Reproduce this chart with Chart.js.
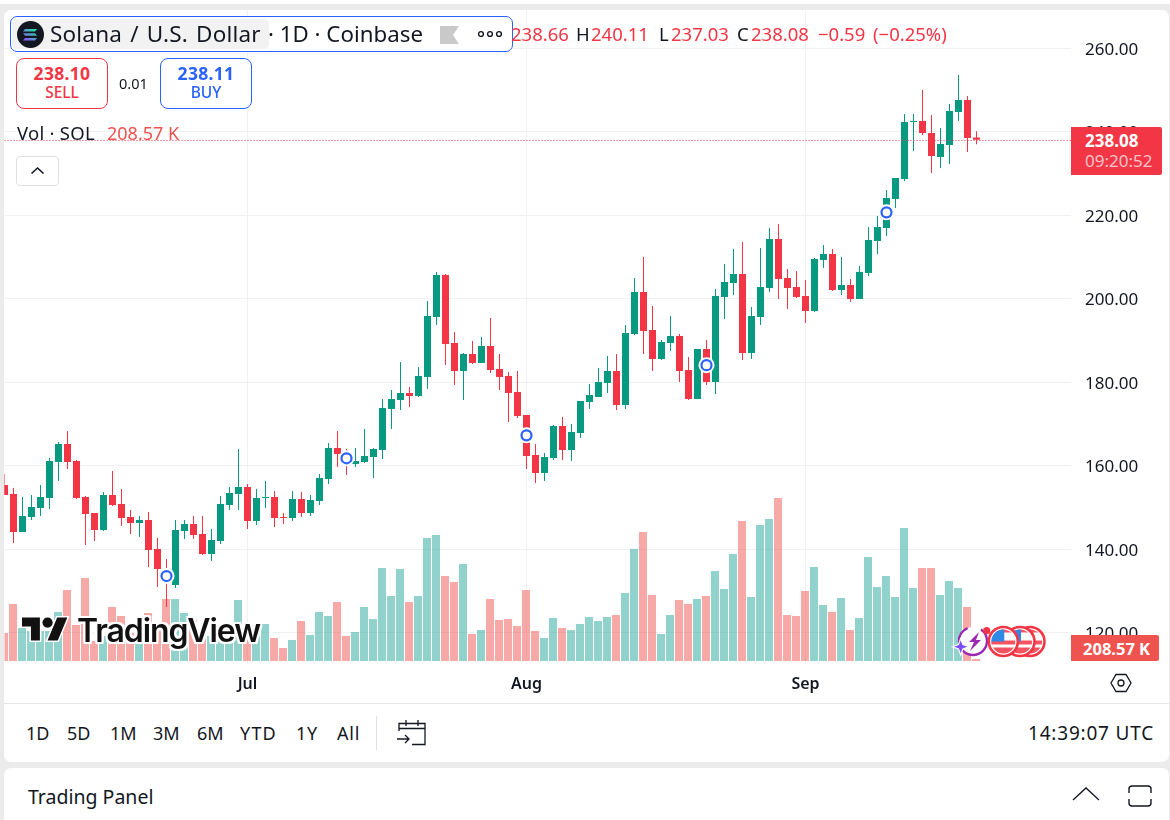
<!DOCTYPE html>
<html>
<head>
<meta charset="utf-8">
<title>Solana / U.S. Dollar</title>
<script src="https://cdn.jsdelivr.net/npm/chart.js@4/dist/chart.umd.min.js"></script>
<style>
  html, body { margin: 0; padding: 0; background: #fff; }
  body { width: 1170px; height: 820px; position: relative; overflow: hidden; font-family: "Noto Sans", sans-serif; color: #131722; }
  .abs { position: absolute; white-space: nowrap; line-height: 1; }
  #bg { position: absolute; left: 0; top: 4px; width: 1170px; height: 816px; background: #ebebeb; }
  .card { position: absolute; background: #fff; border-radius: 7px; }
  #chartCard { left: 4px; top: 10px; width: 1165px; height: 752px; }
  #panelCard { left: 4px; top: 768px; width: 1165px; height: 60px; }
  #axisLine { position: absolute; left: 4px; top: 703px; width: 1165px; height: 1px; background: #e6e6e6; }
  canvas { position: absolute; left: 4px; top: 10px; }
  #titleBox { position: absolute; left: 10px; top: 16px; width: 501px; height: 34px; border: 1px solid #2962ff; border-radius: 7px; background: #fff; }
  #titlePill { position: absolute; left: 12px; top: 19px; width: 257px; height: 30px; background: #f2f2f2; border-radius: 5px; }
  .red { color: #f23645; }
  .ohlc { top: 25px; font-size: 18.5px; }
  .tradeBtn { position: absolute; top: 58px; height: 49px; width: 90px; border: 1px solid; border-radius: 8px; background: #fff; text-align: center; }
  .tradeBtn b { display: block; font-size: 17.5px; line-height: 16px; margin-top: 6px; font-weight: 700; letter-spacing: .3px; }
  .tradeBtn span { display: block; font-size: 15.5px; line-height: 15px; margin-top: 4px; font-weight: 500; }
  #chevBtn { position: absolute; left: 16px; top: 156px; width: 41px; height: 28px; border: 1px solid #e0e0e0; border-radius: 4px; background: #fff; }
  #lastBadge { position: absolute; left: 1071px; top: 127px; width: 91px; height: 48px; background: #f23645; border-radius: 0 2px 2px 0; color: #fff; }
  #volBadge { position: absolute; left: 1071px; top: 635px; width: 88px; height: 26px; background: #ef5350; border-radius: 0 2px 2px 0; color: #fff; font-weight: 700; font-size: 16.5px; line-height: 27px; padding-left: 12px; box-sizing: border-box; white-space: nowrap; }
  #logoText { left: 77px; top: 612px; font-family: Inter, sans-serif; font-weight: 600; font-size: 32px; letter-spacing: -1.1px; color: #111; line-height: 38px;
    text-shadow: 2px 0 #fff, -2px 0 #fff, 0 2px #fff, 0 -2px #fff, 2px 2px #fff, -2px 2px #fff, 2px -2px #fff, -2px -2px #fff; }
  .range { top: 724px; font-size: 18px; }
</style>
</head>
<body>
<div id="bg"></div>
<div id="chartCard" class="card"></div>
<div id="panelCard" class="card"></div>
<div id="axisLine"></div>
<canvas id="chart" width="1165" height="693"></canvas>

<div id="titleBox"></div>
<div id="titlePill"></div>
<svg class="abs" style="left:17px;top:21px" width="27" height="27" viewBox="0 0 27 27">
  <defs><linearGradient id="sol" x1="0" y1="1" x2="1" y2="0"><stop offset="0" stop-color="#9945ff"/><stop offset="1" stop-color="#14f195"/></linearGradient></defs>
  <circle cx="13.5" cy="13.5" r="13.5" fill="#131722"/>
  <path d="M8 8h12l-2 2.4H6zM6 12.3h12l2 2.4H8zM8 17h12l-2 2.4H6z" fill="url(#sol)"/>
</svg>
<div class="abs" style="left:50px;top:23px;font-size:22.5px;word-spacing:2px;letter-spacing:.2px">Solana / U.S. Dollar</div>
<div class="abs" style="left:268px;top:23px;font-size:22.3px">· 1D · Coinbase</div>
<svg class="abs" style="left:440px;top:26px" width="19" height="18" viewBox="0 0 19 18"><path d="M0 0h19l-6 9 6 9H0z" fill="#c9c9c9"/></svg>
<svg class="abs" style="left:477px;top:30px" width="27" height="8" viewBox="0 0 27 8" fill="none" stroke="#131722" stroke-width="1.4"><circle cx="4" cy="4" r="2.4"/><circle cx="13" cy="4" r="2.4"/><circle cx="22" cy="4" r="2.4"/></svg>

<div class="abs red ohlc" style="left:511px">238.66</div>
<div class="abs ohlc" style="left:576px">H</div>
<div class="abs red ohlc" style="left:591px">240.11</div>
<div class="abs ohlc" style="left:659px">L</div>
<div class="abs red ohlc" style="left:671px">237.03</div>
<div class="abs ohlc" style="left:737px">C</div>
<div class="abs red ohlc" style="left:751px">238.08</div>
<div class="abs red ohlc" style="left:818px">−0.59</div>
<div class="abs red ohlc" style="left:873px">(−0.25%)</div>

<div class="tradeBtn" style="left:16px;border-color:#f23645;color:#f23645"><b>238.10</b><span>SELL</span></div>
<div class="abs" style="left:119px;top:76px;font-size:14.5px">0.01</div>
<div class="tradeBtn" style="left:160px;border-color:#2962ff;color:#2962ff"><b>238.11</b><span>BUY</span></div>

<div class="abs" style="left:17px;top:124px;font-size:18.5px;letter-spacing:.25px">Vol · SOL</div>
<div class="abs" style="left:107px;top:124px;font-size:18px;color:#ef5350">208.57 K</div>
<div id="chevBtn"></div>
<svg class="abs" style="left:30px;top:166px" width="15" height="9" viewBox="0 0 15 9"><path d="M1.5 7.5l6-5.5 6 5.5" fill="none" stroke="#131722" stroke-width="1.6"/></svg>

<div id="lastBadge">
  <div style="font-size:17px;font-weight:700;line-height:16px;margin:6px 0 0 14px">238.08</div>
  <div style="font-size:17px;line-height:16px;margin:4px 0 0 14px;color:#fbc4c9">09:20:52</div>
</div>
<div id="volBadge">208.57 K</div>

<svg class="abs" style="left:22px;top:617px;overflow:visible" width="46" height="24" viewBox="0 4 36 18">
  <g fill="#111" stroke="#fff" stroke-width="2.4" paint-order="stroke"><path d="M14 22H7V11H0V4h14v18zM28 22h-8l7.5-18h8L28 22z"/><circle cx="20" cy="8" r="4"/></g>
</svg>
<div id="logoText" class="abs">TradingView</div>

<svg class="abs" style="left:950px;top:622px" width="100" height="40" viewBox="0 0 100 40">
  <defs>
    <g id="usFlag">
      <circle r="14.5" fill="#fff"/>
      <clipPath id="fc"><circle r="12"/></clipPath>
      <g clip-path="url(#fc)"><rect x="-13" y="-1" width="26" height="4" fill="#f7525f"/><rect x="-13" y="6" width="26" height="8" fill="#f7525f"/><rect x="-13" y="-13" width="26" height="4" fill="#f7525f"/><rect x="-13" y="-13" width="14" height="13" fill="#2e8ae6"/></g>
      <circle r="14.5" fill="none" stroke="#f23645" stroke-width="2.6"/>
    </g>
  </defs>
  <use href="#usFlag" x="80" y="19.5"/>
  <use href="#usFlag" x="70" y="19.5"/>
  <circle cx="23" cy="19" r="14" fill="#fff"/><circle cx="23" cy="19" r="14" fill="none" stroke="#9c27b0" stroke-width="2.4" stroke-dasharray="60 14"/>
  <path d="M29 10l-10 10h5l-4 9 11-11h-5z" fill="#9c27b0"/>
  <path d="M10.7 16.5l2.2 6 6 2.2-6 2.2-2.2 6-2.2-6-6-2.2 6-2.2z" fill="#7c4dff" stroke="#fff" stroke-width="1.2"/>
  <circle cx="36.7" cy="8.7" r="3.6" fill="#f23645"/>
  <use href="#usFlag" x="53.3" y="19.5"/>
</svg>

<svg class="abs" style="left:1110px;top:673px" width="22" height="20" viewBox="0 0 22 20" fill="none" stroke="#131722" stroke-width="1.3"><path d="M6 1.5h10L21 10l-5 8.5H6L1 10z"/><circle cx="11" cy="10" r="3"/></svg>

<div class="abs range" style="left:26px">1D</div>
<div class="abs range" style="left:67px">5D</div>
<div class="abs range" style="left:110px">1M</div>
<div class="abs range" style="left:153px">3M</div>
<div class="abs range" style="left:197px">6M</div>
<div class="abs range" style="left:240px;letter-spacing:1.2px">YTD</div>
<div class="abs range" style="left:296px;letter-spacing:.8px">1Y</div>
<div class="abs range" style="left:337px;letter-spacing:.8px">All</div>
<div class="abs" style="left:376px;top:716px;width:1px;height:34px;background:#e0e0e0"></div>
<svg class="abs" style="left:396px;top:718px" width="32" height="29" viewBox="0 0 32 29" fill="none" stroke="#131722" stroke-width="1.3"><path d="M3 13V5.5h26v21H16M3 10.5h26M10 2v6M22 2v6M1 21h12M9 17l4 4-4 4"/></svg>
<div class="abs" style="left:1028px;top:724px;font-size:19px;letter-spacing:.8px">14:39:07 UTC</div>

<div class="abs" style="left:28px;top:787px;font-size:19.5px">Trading Panel</div>
<svg class="abs" style="left:1072px;top:786px" width="28" height="16" viewBox="0 0 28 16"><path d="M1 14L14 2l13 12" fill="none" stroke="#131722" stroke-width="1.3"/></svg>
<svg class="abs" style="left:1127px;top:784px" width="26" height="24" viewBox="0 0 26 24" fill="none" stroke="#131722" stroke-width="1.4"><path d="M2 9V5a3 3 0 0 1 3-3h16a3 3 0 0 1 3 3v4M2 15v4a3 3 0 0 0 3 3h16a3 3 0 0 0 3-3v-4"/></svg>

<script>
// daily SOL/USD candles, 4 Jun to 20 Sep
const opens = [
  155.40,153.24,144.14,147.74,149.89,152.29,160.91,165.22,161.15,152.53,
  148.69,144.62,153.00,150.85,147.74,146.30,147.02,140.07,135.28,131.45,
  144.38,146.06,143.66,138.87,141.99,150.61,153.24,154.92,146.78,152.29,
  152.53,147.74,147.50,152.05,148.69,151.57,156.84,164.26,162.83,160.43,
  160.91,162.11,163.79,173.61,175.76,177.44,176.72,181.27,195.64,205.70,
  189.41,182.71,186.78,184.62,188.70,183.19,181.51,177.68,172.17,162.59,
  158.28,161.87,169.53,163.79,167.86,175.28,176.48,179.83,182.71,174.56,
  191.57,201.63,192.53,185.58,189.41,191.09,182.95,176.00,187.98,180.07,
  200.43,203.79,205.94,187.02,195.64,202.59,214.33,204.99,202.83,200.67,
  197.08,209.30,210.73,202.11,203.31,199.95,206.18,213.85,216.96,223.91,
  228.70,242.35,242.59,239.71,233.97,236.84,244.75,247.62,238.66
];
const highs = [
  158.03,154.68,152.53,153.00,155.40,161.87,165.70,168.33,161.39,152.77,
  148.69,153.72,158.75,154.44,149.41,147.98,148.93,142.71,137.68,147.02,
  147.02,147.98,147.98,144.86,152.77,154.92,164.02,155.64,154.44,156.36,
  153.96,148.69,153.96,153.72,153.00,158.03,165.46,168.33,164.02,164.27,
  168.82,164.27,176.00,178.16,184.86,178.88,183.67,199.47,206.42,205.94,
  192.05,187.02,189.89,190.85,195.40,186.78,182.47,182.71,172.17,165.22,
  163.07,169.77,171.69,170.01,175.52,179.59,183.43,186.30,186.78,193.73,
  204.98,210.01,198.28,190.13,195.88,191.57,186.06,187.98,190.13,202.35,
  208.34,211.93,213.61,198.04,212.17,216.96,217.92,207.14,206.66,204.51,
  209.78,212.89,211.93,210.01,204.75,207.86,217.20,219.84,226.06,228.94,
  244.27,244.27,250.01,244.03,240.91,246.66,253.61,248.58,240.11
];
const lows = [
  153.00,141.51,144.14,147.02,147.98,149.65,156.36,159.23,152.05,141.03,
  142.01,144.38,150.37,145.58,143.66,142.95,135.76,130.97,126.18,130.73,
  142.47,142.47,138.63,137.20,141.27,149.41,149.41,144.86,145.82,149.89,
  145.34,146.06,146.78,147.74,147.98,150.61,155.64,159.71,157.80,159.71,
  160.67,157.08,161.63,168.82,173.37,174.09,176.48,178.40,193.73,184.15,
  179.36,175.76,184.38,184.62,182.23,178.16,170.49,171.45,159.24,155.88,
  156.36,161.39,161.39,161.15,166.66,173.61,176.48,177.44,173.37,173.61,
  191.33,186.78,182.71,185.34,187.50,180.07,175.76,176.00,179.35,177.20,
  195.16,200.91,185.34,185.58,193.73,201.63,199.95,197.56,200.19,194.21,
  196.84,207.38,201.87,200.91,199.24,199.95,205.46,210.73,215.04,221.75,
  228.22,235.40,239.24,230.13,231.33,232.29,242.59,235.16,237.03
];
const closes = [
  153.00,144.14,147.98,150.13,152.53,161.15,165.22,160.91,152.29,148.45,
  144.62,153.00,150.61,147.50,146.30,147.02,139.83,135.28,132.17,144.62,
  146.06,143.42,138.87,142.23,150.85,153.48,154.92,146.78,152.29,152.53,
  147.50,147.50,152.05,148.69,151.81,157.08,164.26,162.83,160.59,161.15,
  162.35,164.03,173.85,176.00,177.44,176.72,181.51,195.88,205.70,189.17,
  182.71,186.78,184.62,188.70,182.95,181.27,177.44,171.93,162.35,158.28,
  162.11,169.53,163.79,168.10,175.52,176.96,180.07,182.71,174.56,191.81,
  201.63,192.29,185.58,189.65,191.09,182.71,176.00,187.98,180.07,200.67,
  204.03,205.94,187.02,195.88,202.83,214.33,204.75,202.59,200.43,197.08,
  209.54,210.73,202.11,203.31,199.95,206.42,214.09,217.20,224.15,228.94,
  242.35,242.59,239.71,234.21,237.08,244.98,247.62,238.52,238.08
];
// volume in thousands of SOL
const volumes = [
  2800,5700,3300,3000,3000,3000,4900,7100,3600,8300,
  2000,2500,5400,4500,2800,2800,4800,3500,6200,6200,
  4800,4100,3000,2500,3000,3000,6100,3500,3600,3700,
  2300,1300,2100,4000,2600,4900,4500,5900,2500,2900,
  5400,4200,9300,6500,9200,5900,6500,12300,12600,8500,
  7900,9700,2700,3100,6200,4100,4200,3500,7100,3000,
  2300,4300,3300,3100,3700,4400,4000,4400,4600,6800,
  11200,12900,6600,2700,4600,6100,5700,6200,6500,9000,
  7200,10700,14000,6400,13600,14200,16300,4600,4500,7000,
  9400,5600,4900,6300,3100,4300,10400,7400,8500,6400,
  13300,7300,9300,9300,6600,8000,7300,5400,208.57
];
const priceTicks = [120, 140, 160, 180, 200, 220, 240, 260];
const monthLabels = ['Jul', 'Aug', 'Sep'];
const monthStarts = [27, 58, 89];
// candles carrying an event marker
const markerDays = [18, 38, 58, 78, 98];
const markerPrices = [133.6, 161.8, 167.3, 184.1, 220.7];
const lastClose = closes[closes.length - 1];

const upColor = '#089981', downColor = '#f23645';
const volUp = 'rgba(38,166,154,.5)', volDown = 'rgba(239,83,80,.5)';
const gridColor = '#f1f1f1';
const isUp = closes.map((c, i) => c >= opens[i]);
const candleColors = isUp.map(u => u ? upColor : downColor);

const dottedLast = {
  id: 'dottedLast',
  afterDatasetsDraw(chart) {
    const {ctx, chartArea, scales} = chart;
    const y = Math.round(scales.y.getPixelForValue(lastClose)) + .5;
    ctx.save();
    ctx.strokeStyle = downColor;
    ctx.lineWidth = 1;
    ctx.setLineDash([1, 2]);
    ctx.beginPath();
    ctx.moveTo(chartArea.left, y);
    ctx.lineTo(chartArea.right, y);
    ctx.stroke();
    ctx.restore();
  }
};

// the labels may not push the plot in: it has to run from edge to edge
const noPadding = axis => {
  axis.paddingLeft = axis.paddingRight = axis.paddingTop = axis.paddingBottom = 0;
};

// bars sit on top of each other, width comes from maxBarThickness only
const barBase = {grouped: false, inflateAmount: 0, barPercentage: 1, categoryPercentage: 1};

new Chart(document.getElementById('chart'), {
  type: 'bar',
  data: {
    datasets: [
      {
        type: 'scatter', order: 0,
        data: markerDays.map((d, i) => ({x: d, y: markerPrices[i]})),
        backgroundColor: '#fff', borderColor: '#2962ff', borderWidth: 2.2, pointRadius: 5
      },
      {
        type: 'scatter', order: 0.5,
        data: markerDays.map((d, i) => ({x: d, y: markerPrices[i]})),
        backgroundColor: '#fff', borderWidth: 0, pointRadius: 8
      },
      {
        ...barBase, order: 1, maxBarThickness: 7,
        data: opens.map((o, i) => ({x: i, y: [o, closes[i]]})),
        backgroundColor: candleColors
      },
      {
        ...barBase, order: 2, maxBarThickness: 1,
        data: lows.map((l, i) => ({x: i, y: [l, highs[i]]})),
        backgroundColor: candleColors
      },
      {
        ...barBase, order: 3, maxBarThickness: 8, xAxisID: 'xVol', yAxisID: 'yVol',
        data: volumes.map((v, i) => ({x: i, y: v})),
        backgroundColor: isUp.map(u => u ? volUp : volDown)
      }
    ]
  },
  options: {
    responsive: false,
    animation: false,
    devicePixelRatio: 1,
    layout: {padding: {left: .5}, autoPadding: false},
    plugins: {legend: {display: false}, tooltip: {enabled: false}},
    scales: {
      x: {
        type: 'linear', position: 'bottom', offset: false,
        min: 0, max: 118.5,
        afterBuildTicks: axis => { axis.ticks = monthStarts.map(value => ({value})); },
        afterFit: axis => { axis.height = 39; noPadding(axis); },
        border: {display: false},
        grid: {color: gridColor, drawTicks: false, offset: false},
        ticks: {
          autoSkip: false, maxRotation: 0, padding: 11, color: '#131722',
          font: {family: '"Noto Sans"', size: 16, weight: '600'},
          callback: v => monthLabels[monthStarts.indexOf(v)]
        }
      },
      xVol: {type: 'linear', display: false, offset: false, min: .0556, max: 118.5556, grid: {offset: false}},
      y: {
        position: 'right', min: 112.53, max: 269.17,
        afterBuildTicks: axis => { axis.ticks = priceTicks.map(value => ({value})); },
        afterFit: axis => { axis.width = 98; noPadding(axis); },
        border: {display: false},
        grid: {color: gridColor, drawTicks: false},
        ticks: {
          padding: 14, labelOffset: 1.5, color: '#131722', crossAlign: 'near',
          font: {family: '"Noto Sans"', size: 17},
          callback: v => v.toFixed(2)
        }
      },
      yVol: {display: false, min: -300, max: 65100}
    }
  },
  plugins: [dottedLast]
});
</script>
</body>
</html>
